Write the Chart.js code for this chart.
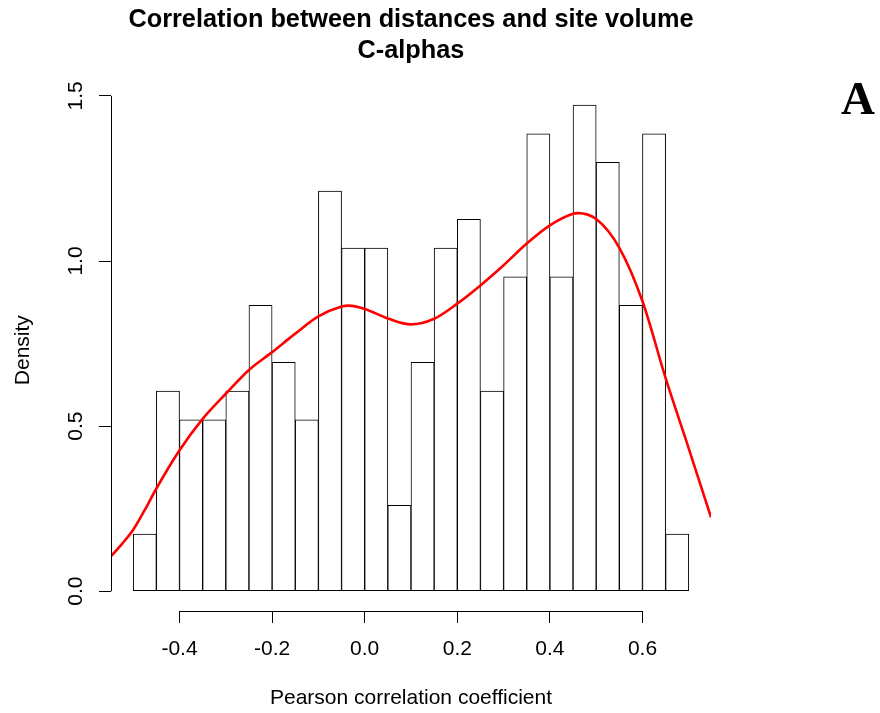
<!DOCTYPE html>
<html>
<head>
<meta charset="utf-8">
<title>Correlation between distances and site volume</title>
<script src="https://cdn.jsdelivr.net/npm/chart.js@4.4.1/dist/chart.umd.min.js"></script>
<style>
    html, body { margin: 0; padding: 0; background: #ffffff; }
    #wrap { width: 880px; height: 713px; position: relative; }
</style>
</head>
<body>
<div id="wrap"><canvas id="histChart" width="880" height="713"></canvas></div>
<script>
// Histogram bins (width 0.05) and their densities
const binStarts = [-0.50, -0.45, -0.40, -0.35, -0.30, -0.25, -0.20, -0.15, -0.10, -0.05,
                    0.00,  0.05,  0.10,  0.15,  0.20,  0.25,  0.30,  0.35,  0.40,  0.45,
                    0.50,  0.55,  0.60,  0.65];
const binDensity = [0.173, 0.606, 0.519, 0.519, 0.606, 0.866, 0.693, 0.519, 1.212, 1.039,
                    1.039, 0.260, 0.693, 1.039, 1.126, 0.606, 0.952, 1.385, 0.952, 1.472,
                    1.299, 0.866, 1.385, 0.173];
const binWidth = 0.05;

// Kernel density estimate, sampled along x
const kdeX = [-0.548, -0.525, -0.50, -0.475, -0.45, -0.40, -0.35, -0.30, -0.25, -0.20,
              -0.15, -0.10, -0.05, -0.035, 0.00, 0.05, 0.10, 0.15, 0.20, 0.25,
               0.30, 0.35, 0.40, 0.45, 0.46, 0.50, 0.55, 0.60, 0.65, 0.70, 0.748];
const kdeY = [0.106, 0.142, 0.186, 0.246, 0.311, 0.427, 0.522, 0.598, 0.670, 0.724,
              0.780, 0.832, 0.862, 0.865, 0.855, 0.826, 0.808, 0.825, 0.871, 0.926,
              0.987, 1.053, 1.108, 1.143, 1.145, 1.127, 1.040, 0.878, 0.645, 0.432, 0.224];

const xTicks = [-0.4, -0.2, 0.0, 0.2, 0.4, 0.6];
const yTicks = [0.0, 0.5, 1.0, 1.5];

const FONT = '"Liberation Sans", Arial, Helvetica, sans-serif';

// R-style axes: line only spans first..last tick, rotated y labels, panel letter
const baseAxes = {
    id: 'baseAxes',
    afterDraw(chart) {
        const ctx = chart.ctx;
        const xs = chart.scales.x;
        const ys = chart.scales.y;
        const area = chart.chartArea;
        ctx.save();
        ctx.strokeStyle = '#000';
        ctx.lineWidth = 1;
        ctx.beginPath();
        const yl = Math.round(area.left) + 0.5;
        ctx.moveTo(yl, ys.getPixelForValue(yTicks[0]));
        ctx.lineTo(yl, ys.getPixelForValue(yTicks[yTicks.length - 1]));
        const xb = Math.round(area.bottom) + 0.5;
        ctx.moveTo(xs.getPixelForValue(xTicks[0]), xb);
        ctx.lineTo(xs.getPixelForValue(xTicks[xTicks.length - 1]), xb);
        ctx.stroke();

        ctx.fillStyle = '#000';
        ctx.font = '21px ' + FONT;
        ctx.textAlign = 'center';
        ctx.textBaseline = 'alphabetic';
        yTicks.forEach(v => {
            ctx.save();
            ctx.translate(82, ys.getPixelForValue(v));
            ctx.rotate(-Math.PI / 2);
            ctx.fillText(v.toFixed(1), 0, 0);
            ctx.restore();
        });

        ctx.font = 'bold 47px "Liberation Serif", "Times New Roman", serif';
        ctx.fillText('A', 858, 114);
        ctx.restore();
    }
};

const ctx = document.getElementById('histChart').getContext('2d');

new Chart(ctx, {
    type: 'bar',
    data: {
        datasets: [
            {
                type: 'line',
                data: kdeX.map((x, i) => ({ x: x, y: kdeY[i] })),
                borderColor: '#ff0000',
                borderWidth: 2.6,
                pointRadius: 0,
                cubicInterpolationMode: 'monotone',
                fill: false,
                order: 0
            },
            {
                type: 'bar',
                data: binStarts.map((s, i) => ({ x: s + binWidth / 2, y: binDensity[i] })),
                backgroundColor: '#ffffff',
                borderColor: '#000000',
                borderWidth: 1,
                borderSkipped: false,
                barPercentage: 1.0,
                categoryPercentage: 1.0,
                order: 1
            }
        ]
    },
    options: {
        responsive: false,
        animation: false,
        devicePixelRatio: 1,
        layout: { padding: { left: 0, right: 169, top: 0, bottom: 0 } },
        plugins: {
            legend: { display: false },
            tooltip: { enabled: false },
            title: {
                display: true,
                fullSize: false,
                text: ['Correlation between distances and site volume', 'C-alphas'],
                color: '#000',
                font: { family: FONT, size: 25.3, weight: 'bold', lineHeight: 1.2 },
                padding: { top: 5, bottom: 23.6 }
            }
        },
        scales: {
            x: {
                type: 'linear',
                min: -0.548,
                max: 0.748,
                offset: false,
                afterBuildTicks: s => { s.ticks = xTicks.map(v => ({ value: v })); },
                afterFit: s => { s.height = 102; },
                grid: { offset: false, drawOnChartArea: false, drawTicks: true, tickLength: 12, color: '#000' },
                border: { display: false },
                ticks: {
                    color: '#000',
                    font: { family: FONT, size: 21 },
                    padding: 14,
                    maxRotation: 0,
                    callback: v => v.toFixed(1)
                },
                title: {
                    display: true,
                    text: 'Pearson correlation coefficient',
                    color: '#000',
                    font: { family: FONT, size: 21 },
                    padding: { top: 0, bottom: 2 }
                }
            },
            y: {
                type: 'linear',
                min: -0.06,
                max: 1.52,
                afterBuildTicks: s => { s.ticks = yTicks.map(v => ({ value: v })); },
                afterFit: s => { s.width = 111; },
                grid: { drawOnChartArea: false, drawTicks: true, tickLength: 12, color: '#000' },
                border: { display: false },
                ticks: { display: false },
                title: {
                    display: true,
                    text: 'Density',
                    color: '#000',
                    font: { family: FONT, size: 21 },
                    padding: { top: 11, bottom: 0 }
                }
            }
        }
    },
    plugins: [baseAxes]
});
</script>
</body>
</html>
